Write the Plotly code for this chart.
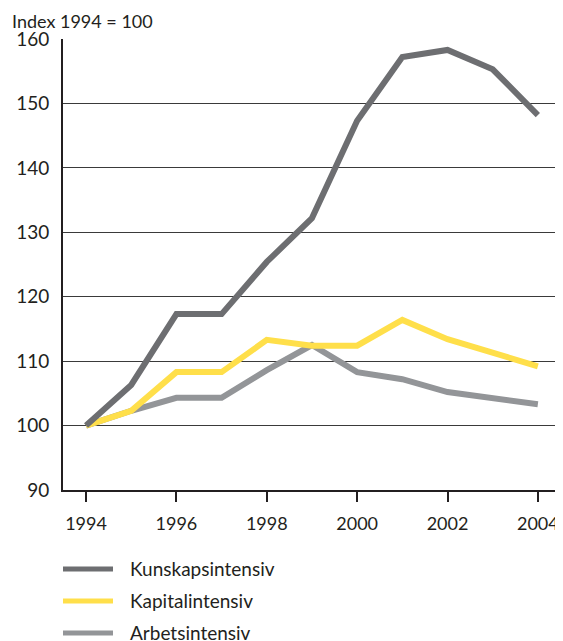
import plotly.graph_objects as go

# ── Datos (Index 1994 = 100) ────────────────────────────────────────────────
years = [1994, 1995, 1996, 1997, 1998, 1999, 2000, 2001, 2002, 2003, 2004]
kunskap = [100, 106.3, 117.3, 117.3, 125.4, 132.2, 147.3, 157.2, 158.3, 155.3, 148.2]
kapital = [100, 102.3, 108.3, 108.3, 113.3, 112.4, 112.4, 116.4, 113.4, 111.4, 109.2]
arbets = [100, 102.3, 104.3, 104.3, 108.6, 112.5, 108.3, 107.2, 105.2, 104.3, 103.3]

series_names = ['Kunskapsintensiv', 'Kapitalintensiv', 'Arbetsintensiv']
series_vals = [kunskap, kapital, arbets]
series_colors = ['#6d6e71', '#ffdf4a', '#939598']

FONT = 'Lato'
FSIZE = 19

fig = go.Figure()
# arbets primero para que quede debajo
for name, vals, col in reversed(list(zip(series_names, series_vals, series_colors))):
    fig.add_trace(go.Scatter(
        x=years, y=vals, name=name, mode='lines',
        line=dict(color=col, width=6),
        showlegend=False,
    ))

# ── Leyenda manual debajo del gráfico ───────────────────────────────────────
shapes = []
annotations = []
for i, (name, col) in enumerate(zip(series_names, series_colors)):
    yy = -0.175 - i * 0.071
    shapes.append(dict(type='line', xref='paper', yref='paper',
                       x0=0.0, x1=0.1006, y0=yy, y1=yy,
                       line=dict(color=col, width=5)))
    annotations.append(dict(text=name, xref='paper', yref='paper',
                            x=0.131, y=yy, xanchor='left', yanchor='middle',
                            showarrow=False,
                            font=dict(size=FSIZE, color='#231f20', family=FONT)))

annotations.append(dict(text='Index 1994 = 100', xref='paper', yref='paper',
                        x=-0.1066, y=1.041, xanchor='left', yanchor='middle',
                        showarrow=False,
                        font=dict(size=18, color='#231f20', family=FONT)))

# el cuerpo de la página tiene ~8px de margen → figura un poco más chica
fig.update_layout(
    width=555, height=633,
    margin=dict(l=55, r=3, t=31, b=151),
    plot_bgcolor='white', paper_bgcolor='white',
    font=dict(family=FONT, size=FSIZE, color='#231f20'),
    xaxis=dict(range=[1993.49, 2004.49], tickvals=[1994, 1996, 1998, 2000, 2002, 2004],
               showgrid=False, zeroline=False,
               showline=True, linecolor='#231f20', linewidth=2,
               ticks='outside', ticklen=10, tickwidth=2, tickcolor='#231f20',
               ticklabelstandoff=6, tickfont=dict(size=18)),
    yaxis=dict(range=[90, 160], tickvals=list(range(90, 161, 10)),
               showgrid=True, gridcolor='#3a3a3a', gridwidth=1,
               zeroline=False, showline=True, linecolor='#231f20', linewidth=2,
               ticks='', ticklabelstandoff=8,
               tickfont=dict(size=FSIZE)),
    shapes=shapes,
    annotations=annotations,
)

fig.write_html('out.html')
